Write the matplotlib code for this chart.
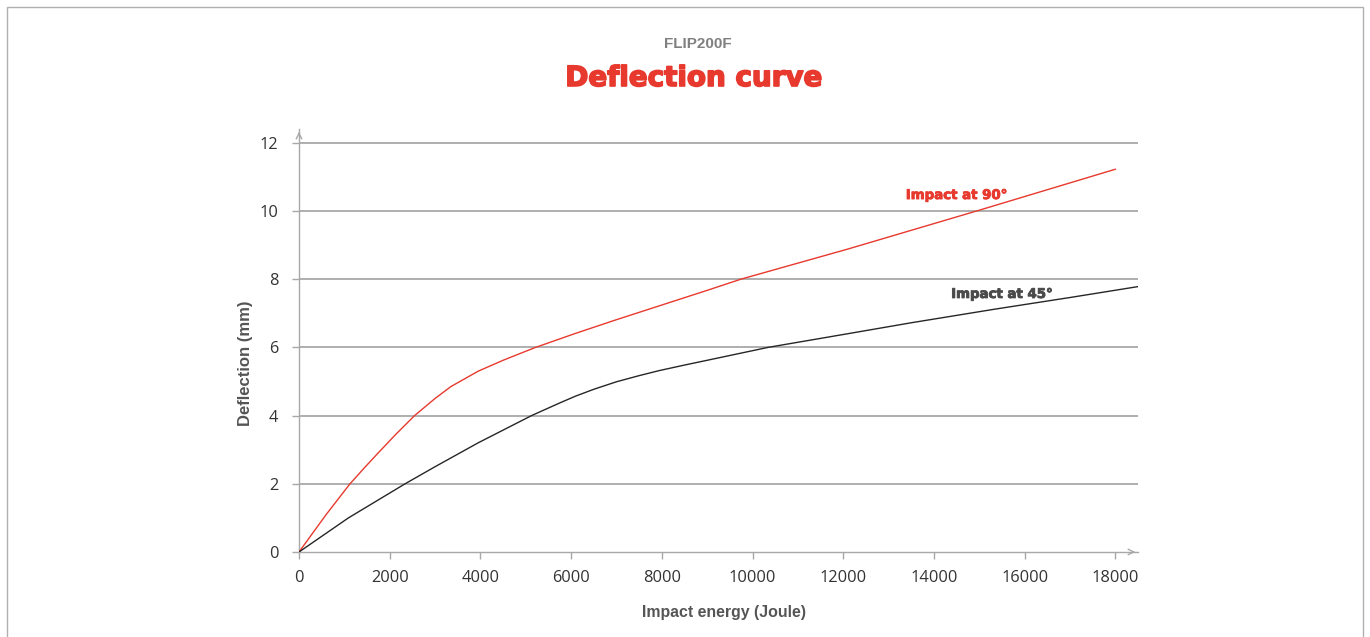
import matplotlib.pyplot as plt
import matplotlib.patheffects as pe
from matplotlib.patches import Rectangle

# Données
energy_90 = [0, 600, 1125, 1450, 1750, 2150, 2550, 3000, 3350, 3950, 4500, 5200,
             6100, 7000, 8000, 9000, 9750, 12100, 14950, 18000]
defl_90 = [0, 1.1, 2.0, 2.48, 2.91, 3.47, 4.0, 4.5, 4.85, 5.3, 5.62, 5.99,
           6.41, 6.81, 7.24, 7.67, 8.0, 8.88, 10.0, 11.22]

energy_45 = [0, 1090, 2340, 3000, 3950, 5130, 5750, 6100, 6500, 7000, 7500, 7950,
             8500, 9000, 10350, 12150, 13500, 15350, 17000, 18500]
defl_45 = [0, 1.0, 2.0, 2.5, 3.2, 4.0, 4.37, 4.57, 4.77, 4.99, 5.17, 5.32,
           5.48, 5.62, 6.0, 6.41, 6.72, 7.12, 7.46, 7.78]

x_ticks = [0, 2000, 4000, 6000, 8000, 10000, 12000, 14000, 16000, 18000]
y_ticks = [0, 2, 4, 6, 8, 10, 12]

red = '#e8392e'
grey_txt = '#555555'

fig = plt.figure(figsize=(13.7, 6.37), dpi=100)
fig.patches.append(Rectangle((7 / 1370, -0.1), 1356 / 1370, 1.1 - 7 / 637,
                             transform=fig.transFigure, fill=False,
                             edgecolor='#b0b0b0', linewidth=1))

ax = fig.add_axes([299 / 1370, 1 - 552 / 637, 839 / 1370, (552 - 129) / 637])
ax.set_xlim(0, 18500)
ax.set_ylim(0, 12.4)

# Grille horizontale
for y in y_ticks[1:]:
    ax.axhline(y, color='#a8a8a8', linewidth=1.3, zorder=1)

ax.plot(energy_90, defl_90, color=red, linewidth=1.0, zorder=3)
ax.plot(energy_45, defl_45, color='#262626', linewidth=1.0, zorder=3)

for s in ['top', 'right']:
    ax.spines[s].set_visible(False)
for s in ['left', 'bottom']:
    ax.spines[s].set_color('#a8a8a8')
    ax.spines[s].set_linewidth(1.0)

# Flèches au bout des axes
ax.annotate('', xy=(1.0, 0), xytext=(0.99, 0), xycoords='axes fraction',
            arrowprops=dict(arrowstyle='->', color='#a8a8a8', lw=1))
ax.annotate('', xy=(0, 1.0), xytext=(0, 0.98), xycoords='axes fraction',
            arrowprops=dict(arrowstyle='->', color='#a8a8a8', lw=1))

ax.set_xticks(x_ticks)
ax.set_xticklabels([str(v) for v in x_ticks])
ax.set_yticks(y_ticks)
ax.set_yticklabels([str(v) for v in y_ticks])
ax.tick_params(axis='both', colors='#a8a8a8', labelcolor='#333333',
               labelsize=11.8, length=5, width=1)
ax.tick_params(axis='x', pad=8)
ax.tick_params(axis='y', pad=10)
for lab in ax.get_xticklabels() + ax.get_yticklabels():
    lab.set_family('Open Sans')

# Titres des axes
fig.text(724.5 / 1370, 1 - 612 / 637, 'Impact energy (Joule)', ha='center', va='center',
         fontsize=11.4, fontweight='bold', color=grey_txt, family='Liberation Sans')
fig.text(245.7 / 1370, 1 - 363.5 / 637, 'Deflection (mm)', ha='center', va='center',
         rotation=90, fontsize=12, fontweight='bold', color=grey_txt,
         family='Liberation Sans')

ax.text(13380, 10.45, 'Impact at 90°', color=red, fontsize=9.6,
        fontweight='bold', family='DejaVu Sans', va='center',
        path_effects=[pe.withStroke(linewidth=0.6, foreground=red)])
ax.text(14380, 7.55, 'Impact at 45°', color='#4a4a4a', fontsize=9.6,
        fontweight='bold', family='DejaVu Sans', va='center',
        path_effects=[pe.withStroke(linewidth=0.6, foreground='#4a4a4a')])

fig.text(698 / 1370, 1 - 44 / 637, 'FLIP200F', ha='center', va='center',
         fontsize=11, fontweight='bold', color='#808080', family='Liberation Sans')
fig.text(694 / 1370, 1 - 78 / 637, 'Deflection curve', ha='center', va='center',
         fontsize=20, fontweight='bold', color=red, family='DejaVu Sans',
         path_effects=[pe.withStroke(linewidth=1.2, foreground=red)])

fig.savefig('out.png', dpi=100, facecolor='white')
